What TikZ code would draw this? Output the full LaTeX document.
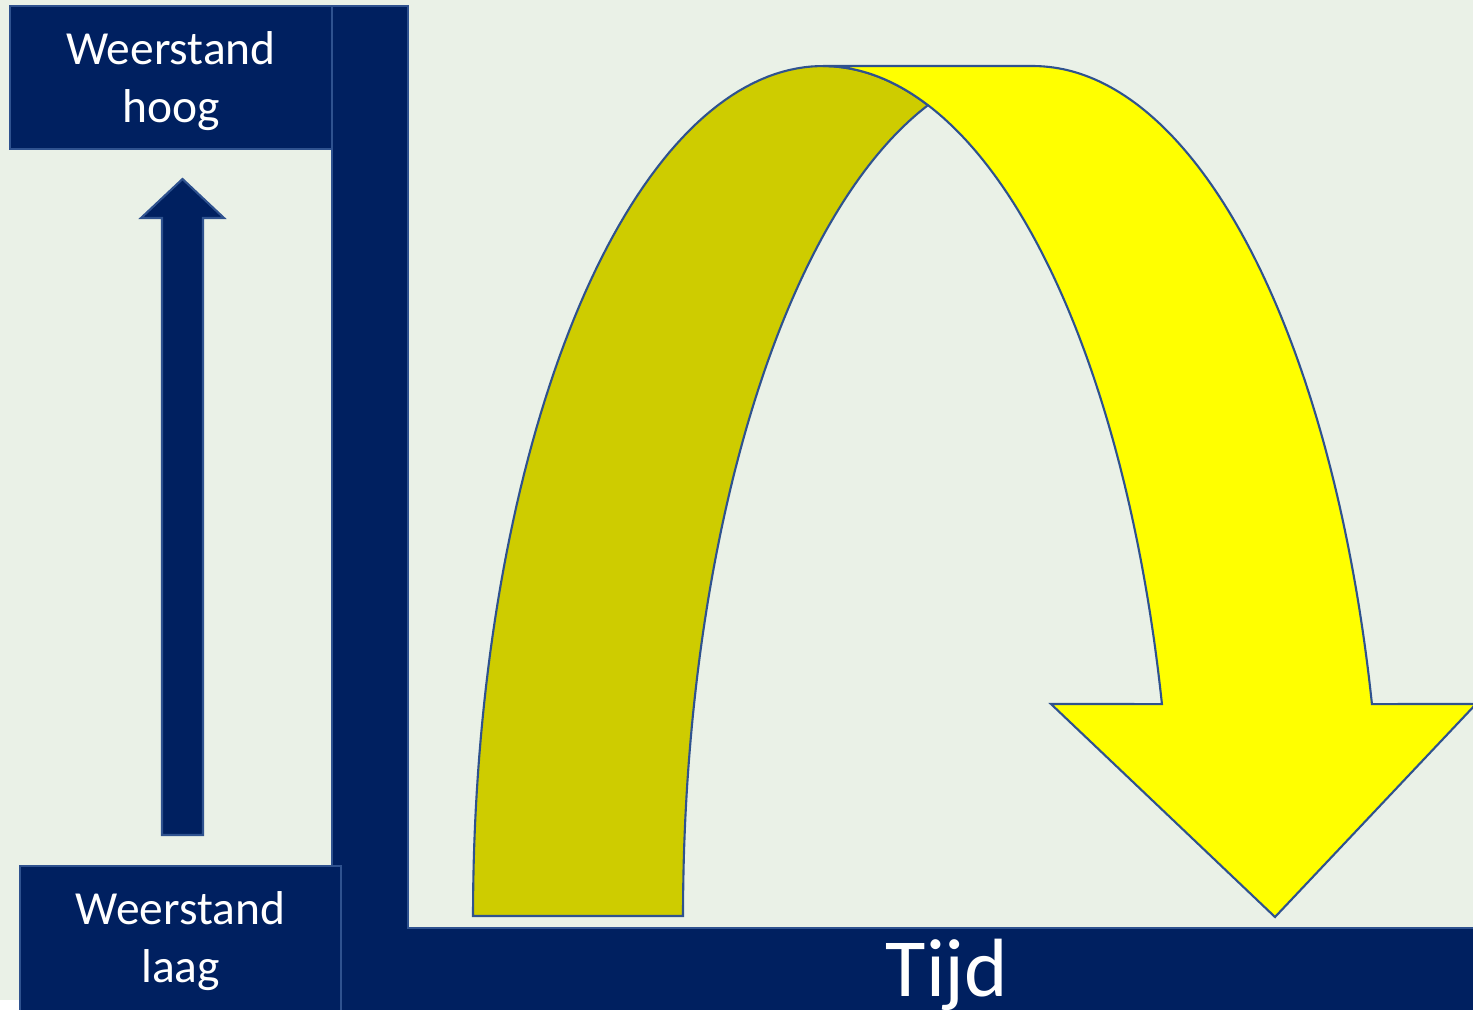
\documentclass[tikz,border=0pt]{standalone}
\usepackage{fontspec}
\setmainfont{Carlito}
\definecolor{bg}{HTML}{EAF1E7}
\definecolor{navy}{HTML}{002060}
\definecolor{edge}{HTML}{2F528F}
\definecolor{ylw}{HTML}{FFFF00}
\definecolor{dylw}{HTML}{CECC00}
\begin{document}
\begin{tikzpicture}[x=0.01cm,y=-0.01cm,
  navyshape/.style={fill=navy,draw=edge,line width=0.6pt},
  labelbox/.style={navyshape, text=white, align=center, font=\fontsize{13.5}{16.5}\selectfont, inner sep=0pt},
  band/.style={draw=edge,line width=0.6pt,line join=miter}]
\useasboundingbox (0,0) rectangle (1473,1009);
\clip (0,0) rectangle (1473,1009);
\fill[bg] (0,0) rectangle (1473,1009);
\fill[white] (0,1000) rectangle (20,1009);
% axes (L shape)
\draw[navyshape] (332,6) -- (408,6) -- (408,928) -- (1490,928) -- (1490,1020) -- (332,1020) -- cycle;
% labels
\node[labelbox, text depth=0pt, minimum width=3.22cm, minimum height=1.43cm] (hoog) at (171,77.5) {Weerstand\\hoog};
\node[labelbox, minimum width=3.21cm, minimum height=1.50cm] (laag) at (180.5,941) {Weerstand\\laag};
\node[text=white, font=\fontsize{23.5}{28}\selectfont, anchor=base, inner sep=0pt] (tijd) at (947,996) {Tijd};
% up arrow
\draw[navyshape] (162,835) -- (162,218) -- (141,218) -- (182.5,179) -- (224,218) -- (203,218) -- (203,835) -- cycle;
% back (darker) part of the curved arrow
\draw[band, fill=dylw] plot[domain=180:72.54, samples=90] ({823+350*cos(\x)},{916-850*sin(\x)})
  -- plot[domain=107.46:180, samples=90] ({1033+350*cos(\x)},{916-850*sin(\x)}) -- cycle;
% front part of the curved arrow
\draw[band, fill=ylw] plot[domain=72.54:90, samples=20] ({823+350*cos(\x)},{916-850*sin(\x)})
  -- plot[domain=90:14.44, samples=90] ({1033+350*cos(\x)},{916-850*sin(\x)})
  -- (1476,704) -- (1275,917) -- (1051,704)
  -- plot[domain=14.44:72.54, samples=90] ({823+350*cos(\x)},{916-850*sin(\x)}) -- cycle;
\end{tikzpicture}
\end{document}
